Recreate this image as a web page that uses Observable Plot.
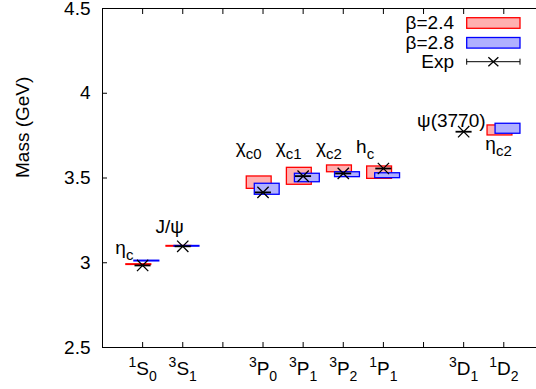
<!DOCTYPE html>
<html><head><meta charset="utf-8">
<script src="https://cdn.jsdelivr.net/npm/d3@7"></script>
<script src="https://cdn.jsdelivr.net/npm/@observablehq/plot@0.6"></script>
<style>body{margin:0;background:#fff}</style>
</head><body><div id="chart"></div>
<script>
// ---- data ----
const stateLabels = ["^{1}S_{0}", "^{3}S_{1}", "^{3}P_{0}", "^{3}P_{1}", "^{3}P_{2}", "^{1}P_{1}", "^{3}D_{1}", "^{1}D_{2}"];
const statePos    = [1, 2, 4, 5, 6, 7, 9, 10];
const beta24Lo = [2.987, 3.095, 3.436, 3.460, 3.534, 3.495, null, 3.751];
const beta24Hi = [2.991, 3.099, 3.509, 3.560, 3.574, 3.568, null, 3.810];
const beta28Lo = [3.008, 3.095, 3.401, 3.475, 3.505, 3.499, null, 3.761];
const beta28Hi = [3.012, 3.099, 3.466, 3.525, 3.534, 3.528, null, 3.820];
const expMass  = [2.984, 3.097, 3.415, 3.511, 3.527, 3.556, 3.773, null];
const particleNames = ["η_{c}", "J/ψ", "χ_{c0}", "χ_{c1}", "χ_{c2}", "h_{c}", "ψ(3770)", "η_{c2}"];
const nameX = [0.32, 1.32, 3.32, 4.32, 5.32, 6.32, 7.84, 9.54];
const nameY = [3.055, 3.178, 3.650, 3.650, 3.650, 3.650, 3.800, 3.665];
const yTicks = [2.5, 3, 3.5, 4, 4.5];
const xTicks = [0, 1, 2, 3, 4, 5, 6, 7, 8, 9, 10];
const seriesNames = ["β=2.4", "β=2.8", "Exp"];

const boxes24 = statePos.map((x, i) => ({x, lo: beta24Lo[i], hi: beta24Hi[i]})).filter(d => d.lo != null);
const boxes28 = statePos.map((x, i) => ({x, lo: beta28Lo[i], hi: beta28Hi[i]})).filter(d => d.lo != null);
const expPts  = statePos.map((x, i) => ({x, m: expMass[i]})).filter(d => d.m != null);
const names   = particleNames.map((t, i) => ({t, x: nameX[i], y: nameY[i]}));
const states  = stateLabels.map((t, i) => ({t, x: statePos[i]}));

const RED = "#ff0000", BLUE = "#0000ff", RFILL = "#ffb0b0", BFILL = "#b0b0ff";

const plot = Plot.plot({
  width: 536, height: 389,
  marginLeft: 102, marginRight: 0, marginTop: 8, marginBottom: 42,
  x: {domain: [0, 10.815]},
  y: {domain: [2.5, 4.5]},
  style: {fontFamily: "'Liberation Sans', Arial, sans-serif", fontSize: "19px", background: "white", color: "black", overflow: "visible"},
  marks: [
    Plot.rect(boxes24, {x1: d => d.x - 0.405, x2: d => d.x + 0.215, y1: "lo", y2: "hi", fill: RFILL, stroke: RED, strokeWidth: 1.3}),
    Plot.rect(boxes28, {x1: d => d.x - 0.205, x2: d => d.x + 0.415, y1: "lo", y2: "hi", fill: BFILL, stroke: BLUE, strokeWidth: 1.3}),
    Plot.ruleY(expPts, {y: "m", x1: d => d.x - 0.19, x2: d => d.x + 0.21, stroke: "black", strokeWidth: 1.8}),
    Plot.dot(expPts, {x: "x", y: "m", symbol: "times", r: 5.2, stroke: "black", strokeWidth: 1.3}),
    Plot.text(names, {x: "x", y: "y", text: "t", textAnchor: "start", dy: -6}),
    Plot.ruleX([0], {stroke: "black"}),
    Plot.ruleY([2.5, 4.5], {stroke: "black"}),
    Plot.axisY(yTicks, {tickSize: 5, dx: 5, tickFormat: () => "", label: null}),
    Plot.axisY(yTicks, {tickSize: 0, tickPadding: 12, tickFormat: d => String(d), label: null}),
    Plot.axisX(xTicks, {anchor: "bottom", tickSize: 5, dy: -5, tickFormat: () => "", label: null}),
    Plot.axisX(xTicks, {anchor: "top", tickSize: 5, dy: 5, tickFormat: () => "", label: null}),
    Plot.text(states, {x: "x", text: "t", frameAnchor: "bottom", dy: 27}),
    Plot.text(["Mass (GeV)"], {text: d => d, frameAnchor: "left", dx: -80, rotate: -90})
  ]
});

// rich text: ^{..} superscript, _{..} subscript
function richify(el, o) {
  const s = el.textContent;
  const re = /([\^_])\{([^}]*)\}|([^\^_]+)/g;
  while (el.firstChild) el.removeChild(el.firstChild);
  let shift = 0, m;
  while ((m = re.exec(s))) {
    const t = document.createElementNS("http://www.w3.org/2000/svg", "tspan");
    let target = 0;
    if (m[1] === "^") { target = -o.supShift; t.setAttribute("font-size", o.supSize); t.textContent = m[2]; }
    else if (m[1] === "_") { target = o.subShift; t.setAttribute("font-size", o.subSize); t.textContent = m[2]; }
    else t.textContent = m[3];
    if (target - shift) t.setAttribute("dy", target - shift);
    shift = target;
    el.appendChild(t);
  }
}
d3.select(plot).selectAll("text").each(function () {
  const s = this.textContent;
  if (s.includes("^{")) richify(this, {supSize: 14, supShift: 8, subSize: 14, subShift: 6});
  else if (s.includes("_{")) richify(this, {supSize: 14, supShift: 8, subSize: 15, subShift: 6});
});

// legend (top right, inside the frame)
const lg = d3.select(plot).append("g").attr("font-size", 19).attr("font-family", "'Liberation Sans', Arial, sans-serif");
const rowY = [23, 42.8, 61.7];
const sx0 = 466.7, sx1 = 520;
seriesNames.forEach((name, i) => {
  lg.append("text").attr("x", 454).attr("y", rowY[i] + 6).attr("text-anchor", "end").attr("fill", "black").text(name);
});
[[RFILL, RED], [BFILL, BLUE]].forEach(([f, s], i) => {
  lg.append("rect").attr("x", sx0).attr("y", rowY[i] - 5.3).attr("width", sx1 - sx0).attr("height", 10.6)
    .attr("fill", f).attr("stroke", s).attr("stroke-width", 1.3);
});
const ey = rowY[2];
lg.append("path").attr("d", `M${sx0},${ey}H${sx1}M${sx0},${ey - 3}V${ey + 3}M${sx1},${ey - 3}V${ey + 3}`)
  .attr("stroke", "black").attr("fill", "none");
const cx = (sx0 + sx1) / 2;
lg.append("path").attr("d", `M${cx - 5},${ey - 4.5}L${cx + 5},${ey + 4.5}M${cx - 5},${ey + 4.5}L${cx + 5},${ey - 4.5}`)
  .attr("stroke", "black").attr("stroke-width", 1.3).attr("fill", "none");

document.getElementById("chart").appendChild(plot);
</script></body></html>
